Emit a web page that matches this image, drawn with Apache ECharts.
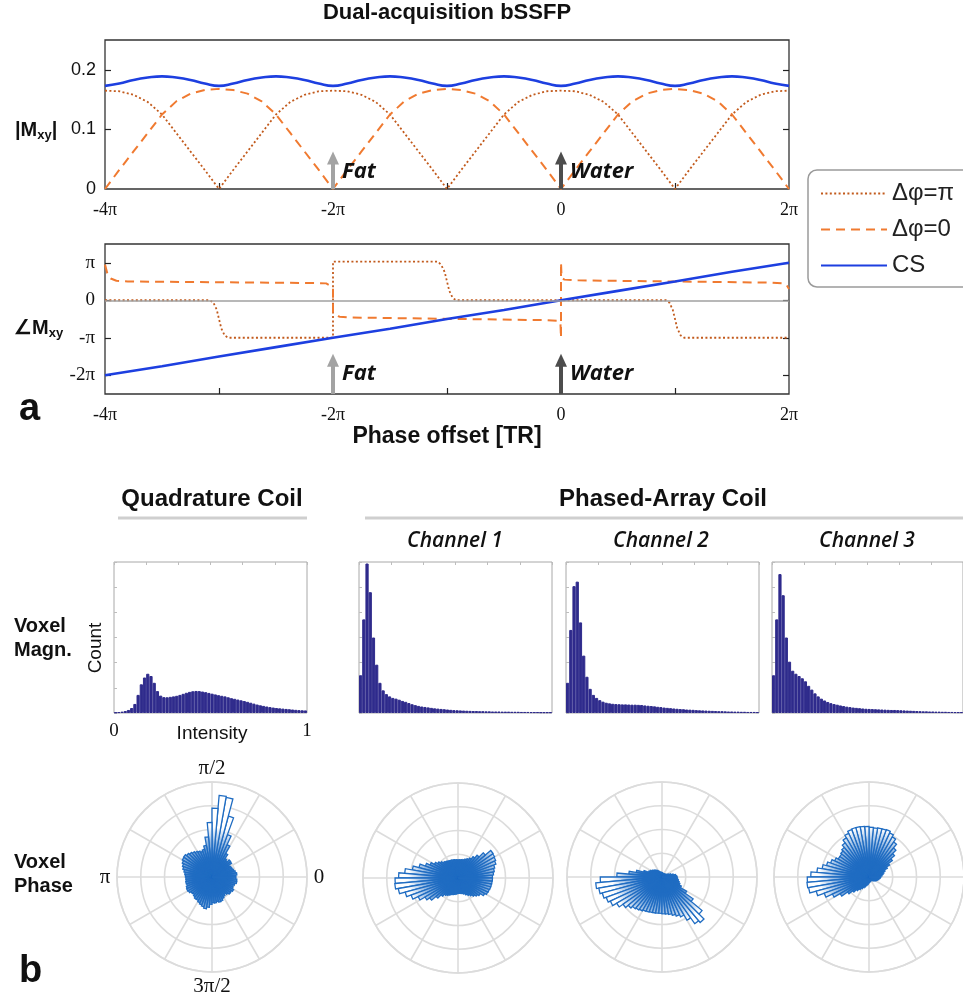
<!DOCTYPE html>
<html><head><meta charset="utf-8">
<script src="https://cdn.jsdelivr.net/npm/echarts@6/dist/echarts.min.js"></script>
<style>html,body{margin:0;padding:0;background:#fff}#c{width:963px;height:999px}</style>
</head><body><div id="c"></div>
<script>
// ---------- Panel a : magnitude (x in units of pi) ----------
const xMag = [-4,-3.875,-3.75,-3.625,-3.5,-3.375,-3.25,-3.125,-3,-2.875,-2.75,-2.625,-2.5,-2.375,-2.25,-2.125,-2,-1.875,-1.75,-1.625,-1.5,-1.375,-1.25,-1.125,-1,-0.875,-0.75,-0.625,-0.5,-0.375,-0.25,-0.125,0,0.125,0.25,0.375,0.5,0.625,0.75,0.875,1,1.125,1.25,1.375,1.5,1.625,1.75,1.875,2];
const magDotted = [.165,.164,.158,.146,.125,.094,.063,.032,0,.032,.063,.094,.125,.146,.158,.164,.165,.164,.158,.146,.125,.094,.063,.032,0,.032,.063,.094,.125,.146,.158,.164,.165,.164,.158,.146,.125,.094,.063,.032,0,.032,.063,.094,.125,.146,.158,.164,.165];
const magDashed = [0,.032,.063,.094,.125,.147,.16,.166,.168,.166,.16,.147,.125,.094,.063,.032,0,.032,.063,.094,.125,.147,.16,.166,.168,.166,.16,.147,.125,.094,.063,.032,0,.032,.063,.094,.125,.147,.16,.166,.168,.166,.16,.147,.125,.094,.063,.032,0];
const magCS = [.173,.177,.183,.187,.189,.187,.183,.177,.173,.177,.183,.187,.189,.187,.183,.177,.173,.177,.183,.187,.189,.187,.183,.177,.173,.177,.183,.187,.189,.187,.183,.177,.173,.177,.183,.187,.189,.187,.183,.177,.173,.177,.183,.187,.189,.187,.183,.177,.173];
// ---------- Panel a : phase (both axes in units of pi) ----------
const phaseDotX = [-4,-3.08,-3.05,-3.02,-3.0,-2.98,-2.95,-2.92,-2.0,-2.0,-1.08,-1.05,-1.02,-1.0,-0.98,-0.95,-0.92,0.92,0.95,0.98,1.0,1.02,1.05,1.08,2.0];
const phaseDotY = [0,0,-0.06,-0.25,-0.5,-0.75,-0.94,-1.0,-1.0,1.03,1.03,0.94,0.75,0.5,0.25,0.06,0,0,-0.06,-0.25,-0.5,-0.75,-0.94,-1.0,-1.0];
const phaseDashX = [-4,-3.98,-3.95,-3.9,-3.8,-2.2,-2.06,-2.03,-2.0,-2.0,-1.98,-1.94,-1.85,-0.15,-0.03,-0.005,0,0,0.005,0.03,0.15,1.85,1.95,1.98,2.0];
const phaseDashY = [0.95,0.72,0.58,0.52,0.5,0.46,0.45,0.4,0.32,-0.32,-0.4,-0.44,-0.46,-0.53,-0.55,-0.6,-1.0,1.0,0.6,0.55,0.53,0.47,0.45,0.4,0.3];
const phaseCSX = [-4,-3.5,-3,-2.5,-2,-1.5,-1,-0.5,0,0.5,1,1.5,2];
const phaseCSY = [-2,-1.76,-1.5,-1.25,-1,-0.76,-0.5,-0.26,0,0.25,0.5,0.76,1];
// ticks and labels
const xTickVals = [-4,-2,0,2];
const xTickLabels = ['-4π','-2π','0','2π'];
const xMinorTicks = [-3,-2,-1,0,1];
const magTickVals = [0,0.1,0.2];
const magTickLabels = ['0','0.1','0.2'];
const phaseTickVals = [1,0,-1,-2];
const phaseTickLabels = ['π','0','-π','-2π'];
// arrows (Fat at -2π, Water at 0)
const arrowX = [-2,0];
const arrowNames = ['Fat','Water'];
const arrowColors = ['#a3a3a3','#4d4d4d'];
const magArrowTip = 0.052, magArrowLabelY = 0.029;
const phaseArrowBase = -2.5, phaseArrowTip = -1.6, phaseArrowLabelY = -1.97;

// ---------- Panel b : histograms (60 bins over intensity 0..1, normalized count) ----------
const histQuad = [0.004,0.006,0.009,0.013,0.02,0.033,0.06,0.12,0.19,0.235,0.26,0.245,0.2,0.145,0.115,0.105,0.104,0.107,0.11,0.114,0.12,0.127,0.134,0.14,0.144,0.146,0.145,0.142,0.138,0.133,0.128,0.123,0.118,0.114,0.11,0.104,0.098,0.094,0.089,0.084,0.079,0.074,0.068,0.062,0.056,0.051,0.047,0.043,0.039,0.036,0.033,0.031,0.029,0.027,0.025,0.023,0.021,0.019,0.018,0.017];
const histCh1 = [0.25,0.62,0.99,0.8,0.5,0.32,0.2,0.15,0.125,0.11,0.1,0.095,0.088,0.08,0.074,0.066,0.058,0.052,0.047,0.043,0.04,0.037,0.034,0.031,0.029,0.027,0.025,0.023,0.021,0.019,0.018,0.017,0.016,0.015,0.014,0.013,0.013,0.012,0.012,0.011,0.011,0.01,0.01,0.01,0.009,0.009,0.009,0.008,0.008,0.008,0.007,0.007,0.007,0.006,0.006,0.006,0.005,0.005,0.005,0.005];
const histCh2 = [0.2,0.55,0.84,0.87,0.6,0.38,0.24,0.16,0.12,0.1,0.085,0.075,0.068,0.064,0.061,0.059,0.058,0.057,0.057,0.056,0.055,0.055,0.054,0.053,0.05,0.048,0.046,0.044,0.041,0.039,0.036,0.034,0.032,0.03,0.028,0.026,0.025,0.023,0.022,0.021,0.019,0.018,0.017,0.016,0.015,0.014,0.013,0.012,0.012,0.011,0.01,0.01,0.009,0.009,0.008,0.008,0.007,0.007,0.007,0.006];
const histCh3 = [0.25,0.62,0.92,0.78,0.5,0.34,0.28,0.26,0.245,0.23,0.21,0.18,0.155,0.13,0.11,0.095,0.083,0.073,0.065,0.059,0.055,0.05,0.046,0.042,0.039,0.036,0.034,0.032,0.03,0.028,0.027,0.026,0.025,0.024,0.023,0.022,0.021,0.02,0.02,0.019,0.018,0.017,0.016,0.015,0.014,0.013,0.012,0.011,0.011,0.01,0.01,0.009,0.009,0.008,0.008,0.007,0.007,0.006,0.006,0.006];

// ---------- Panel b : phase rose histograms (72 bins of 5°, radius in ring units) ----------
const angleBins = [0,5,10,15,20,25,30,35,40,45,50,55,60,65,70,75,80,85,90,95,100,105,110,115,120,125,130,135,140,145,150,155,160,165,170,175,180,185,190,195,200,205,210,215,220,225,230,235,240,245,250,255,260,265,270,275,280,285,290,295,300,305,310,315,320,325,330,335,340,345,350,355];
const roseQuad = [1.0,1.05,1.0,0.95,0.92,0.9,0.86,1.0,1.02,0.9,0.95,1.15,1.5,1.9,2.65,3.4,3.45,2.9,2.3,1.7,1.35,1.2,1.15,1.2,1.25,1.3,1.35,1.4,1.46,1.44,1.38,1.32,1.27,1.2,1.15,1.12,1.1,1.1,1.12,1.1,1.15,1.18,1.15,1.08,1.05,1.1,1.15,1.14,1.2,1.25,1.3,1.36,1.28,1.15,1.08,1.1,1.05,1.1,1.08,1.0,0.95,0.9,0.95,1.02,1.0,1.05,0.98,0.95,1.0,1.06,1.05,1.0];
const roseCh1 = [1.45,1.5,1.55,1.6,1.7,1.75,1.78,1.8,1.5,1.25,1.1,0.97,0.9,0.85,0.8,0.78,0.77,0.76,0.76,0.77,0.78,0.79,0.8,0.81,0.83,0.86,0.9,0.97,1.05,1.15,1.3,1.46,1.7,1.95,2.25,2.5,2.65,2.67,2.55,2.3,2.1,1.85,1.6,1.45,1.2,1.0,0.9,0.85,0.8,0.75,0.72,0.7,0.68,0.66,0.65,0.65,0.66,0.68,0.72,0.78,0.85,0.92,1.0,1.08,1.15,1.3,1.38,1.4,1.42,1.43,1.44,1.45];
const roseCh2 = [0.62,0.58,0.48,0.38,0.3,0.25,0.2,0.18,0.16,0.15,0.15,0.15,0.15,0.15,0.15,0.16,0.16,0.17,0.18,0.19,0.2,0.21,0.22,0.26,0.3,0.34,0.38,0.42,0.45,0.5,0.55,0.6,0.8,1.1,1.4,1.9,2.6,2.8,2.7,2.6,2.5,2.4,2.2,2.0,1.85,1.75,1.7,1.65,1.6,1.57,1.55,1.54,1.53,1.53,1.55,1.57,1.6,1.67,1.75,1.85,2.1,2.4,2.5,2.2,1.6,1.2,0.9,0.8,0.75,0.7,0.66,0.64];
const roseCh3 = [0.5,0.55,0.6,0.65,0.72,0.85,1.0,1.2,1.4,1.6,1.8,1.95,2.05,2.12,2.1,2.1,2.08,2.1,2.13,2.14,2.15,2.15,2.12,2.03,1.9,1.75,1.62,1.55,1.5,1.5,1.6,1.72,1.85,2.0,2.2,2.45,2.6,2.62,2.58,2.3,2.0,1.7,1.4,1.1,0.9,0.75,0.65,0.57,0.5,0.44,0.38,0.34,0.3,0.26,0.23,0.21,0.2,0.18,0.17,0.17,0.17,0.18,0.2,0.22,0.25,0.28,0.32,0.35,0.38,0.42,0.45,0.48];
const roseAngleLabels = ['0','π/2','π','3π/2'];

// ---------- layout / style ----------
const SANS = '"Liberation Sans", Arial, sans-serif';
const SERIF = '"Liberation Serif", "Times New Roman", serif';
const ITAL = '"Open Sans", "Liberation Sans", sans-serif';
const C_DOT = '#c25a1c', C_DASH = '#f07a30', C_CS = '#1d3fe0';
const HIST_COLOR = '#2f2b8c';
const ROSE_EDGE = '#1f6cc2';
const GRID_GRAY = '#dcdcdc';
const histLefts = [114, 359, 566, 772];
const histTop = 562, histW = 193, histH = 151;
const roseCenters = [[212,877],[458,878],[662,877],[869,877]];
const roseR = 95;

const zip = (xs, ys) => xs.map((x, i) => [x, ys[i]]);
const hists = [histQuad, histCh1, histCh2, histCh3];
const roses = [roseQuad, roseCh1, roseCh2, roseCh3];

const grids = [
  {left:105, right:174, top:40, height:149, show:true, borderColor:'#333', borderWidth:1.3, backgroundColor:'transparent'},
  {left:105, right:174, top:244, height:150, show:true, borderColor:'#333', borderWidth:1.3, backgroundColor:'transparent'}
];
histLefts.forEach(l => grids.push({left:l, top:histTop, width:histW, height:histH, show:true, borderColor:'#a8a8a8', borderWidth:1, backgroundColor:'transparent'}));

const piAxis = (gi) => ({
  type:'value', gridIndex:gi, min:-4, max:2, position:'bottom',
  axisLine:{show:false, onZero:false}, splitLine:{show:false},
  axisTick:{show:true, inside:true, length:6, customValues:xMinorTicks, lineStyle:{color:'#222', width:1.2}},
  axisLabel:{show:true, customValues:xTickVals, margin:12,
    formatter:(v)=> xTickLabels[xTickVals.indexOf(v)] ?? '',
    fontFamily:SERIF, fontSize:18, color:'#111'}
});
const xAxes = [piAxis(0), piAxis(1)];
for (let k=0;k<4;k++) xAxes.push({type:'category', gridIndex:2+k, show:false, boundaryGap:true, axisLine:{onZero:false}});
// intensity label axis (quadrature only)
xAxes.push({type:'value', gridIndex:2, min:0, max:1, interval:1, position:'bottom',
  axisLine:{show:false, onZero:false}, axisTick:{show:false}, splitLine:{show:false},
  axisLabel:{show:true, margin:9, fontFamily:SERIF, fontSize:19, color:'#111', formatter:(v)=>String(v)}});
// top tick axes for histograms
for (let k=0;k<4;k++) xAxes.push({type:'value', gridIndex:2+k, min:0, max:1, interval:1/6, position:'top',
  axisLine:{show:false, onZero:false}, axisLabel:{show:false}, splitLine:{show:false},
  axisTick:{show:true, inside:true, length:3, lineStyle:{color:'#bdbdbd'}}});

const yAxes = [
  {type:'value', gridIndex:0, min:0, max:0.25, position:'left',
   axisLine:{show:false, onZero:false}, splitLine:{show:false},
   axisTick:{show:true, inside:true, length:6, customValues:[0.1,0.2], lineStyle:{color:'#222', width:1.2}},
   axisLabel:{customValues:magTickVals, formatter:(v)=> magTickLabels[magTickVals.indexOf(v)] ?? '', margin:9, fontFamily:SANS, fontSize:18, color:'#111'}},
  {type:'value', gridIndex:0, min:0, max:0.25, position:'right',
   axisLine:{show:false, onZero:false}, splitLine:{show:false}, axisLabel:{show:false},
   axisTick:{show:true, inside:true, length:6, customValues:[0.1,0.2], lineStyle:{color:'#222', width:1.2}}},
  {type:'value', gridIndex:1, min:-2.5, max:1.5, position:'left',
   axisLine:{show:false, onZero:false}, splitLine:{show:false},
   axisTick:{show:true, inside:true, length:6, customValues:phaseTickVals, lineStyle:{color:'#222', width:1.2}},
   axisLabel:{customValues:phaseTickVals, formatter:(v)=> phaseTickLabels[phaseTickVals.indexOf(v)] ?? '', margin:10, fontFamily:SERIF, fontSize:19, color:'#111'}},
  {type:'value', gridIndex:1, min:-2.5, max:1.5, position:'right',
   axisLine:{show:false, onZero:false}, splitLine:{show:false}, axisLabel:{show:false},
   axisTick:{show:true, inside:true, length:6, customValues:phaseTickVals, lineStyle:{color:'#222', width:1.2}}}
];
for (let k=0;k<4;k++) yAxes.push({type:'value', gridIndex:2+k, min:0, max:1, interval:1/6,
  axisLine:{show:false, onZero:false}, axisLabel:{show:false}, splitLine:{show:false},
  axisTick:{show:true, inside:true, length:3, lineStyle:{color:'#bdbdbd'}}});

const series = [];
// top magnitude curves
series.push({name:'Δφ=π', type:'line', xAxisIndex:0, yAxisIndex:0, data:zip(xMag, magDotted), symbol:'none', color:C_DOT,
  lineStyle:{color:C_DOT, width:1.8, type:[2,2.4]}, z:3});
series.push({name:'Δφ=0', type:'line', xAxisIndex:0, yAxisIndex:0, data:zip(xMag, magDashed), symbol:'none', color:C_DASH,
  lineStyle:{color:C_DASH, width:2, type:[9,6]}, z:3});
series.push({name:'CS', type:'line', xAxisIndex:0, yAxisIndex:0, data:zip(xMag, magCS), symbol:'none', smooth:true, color:C_CS,
  lineStyle:{color:C_CS, width:2.6}, z:4});
// bottom phase
series.push({name:'zero', type:'line', xAxisIndex:1, yAxisIndex:2, data:[], symbol:'none', z:1,
  markLine:{silent:true, symbol:'none', label:{show:false}, lineStyle:{color:'#a0a0a0', width:1.5, type:'solid'}, data:[{yAxis:0}]}});
series.push({name:'Δφ=π', type:'line', xAxisIndex:1, yAxisIndex:2, data:zip(phaseDotX, phaseDotY), symbol:'none', color:C_DOT,
  lineStyle:{color:C_DOT, width:1.8, type:[2,2.4]}, z:3});
series.push({name:'Δφ=0', type:'line', xAxisIndex:1, yAxisIndex:2, data:zip(phaseDashX, phaseDashY), symbol:'none', color:C_DASH,
  lineStyle:{color:C_DASH, width:2, type:[9,6]}, z:3});
series.push({name:'CS', type:'line', xAxisIndex:1, yAxisIndex:2, data:zip(phaseCSX, phaseCSY), symbol:'none', color:C_CS,
  lineStyle:{color:C_CS, width:2.6}, z:4});
// arrows + labels
arrowX.forEach((ax, i) => {
  [[0,0,magArrowTip,magArrowLabelY],[1,phaseArrowBase,phaseArrowTip,phaseArrowLabelY]].forEach(([g, base, tip, ly]) => {
    series.push({name:'arrow'+i+g, type:'line', xAxisIndex:g, yAxisIndex:g*2, silent:true, z:6,
      lineStyle:{color:arrowColors[i], width:4}, itemStyle:{color:arrowColors[i]}, showSymbol:true, symbol:'none',
      data:[{value:[ax, base], symbol:'none'}, {value:[ax, tip], symbol:'triangle', symbolSize:[12,13]}]});
    series.push({name:'label'+i+g, type:'scatter', xAxisIndex:g, yAxisIndex:g*2, silent:true, z:6,
      symbolSize:0.1, itemStyle:{color:'#ffffff', opacity:1},
      label:{show:true, position:'right', distance:9, formatter:arrowNames[i], fontFamily:ITAL, fontStyle:'italic', fontWeight:'bold', fontSize:22, color:'#111111', opacity:1},
      data:[[ax, ly]]});
  });
});
// histograms
hists.forEach((h, k) => series.push({name:'hist'+k, type:'bar', xAxisIndex:2+k, yAxisIndex:4+k, data:h,
  barCategoryGap:'0%', barGap:'0%', itemStyle:{color:HIST_COLOR, borderColor:HIST_COLOR, borderWidth:1}, silent:true}));
// roses
roses.forEach((r, k) => series.push({name:'rose'+k, type:'bar', coordinateSystem:'polar', polarIndex:k, data:r,
  barCategoryGap:'0%', silent:true, z:3,
  itemStyle:{borderColor:ROSE_EDGE, borderWidth:1.3,
    color:{type:'radial', global:true, x:roseCenters[k][0], y:roseCenters[k][1], r:50,
      colorStops:[{offset:0,color:'#2a73c6'},{offset:0.38,color:'#2a73c6'},{offset:1,color:'#ffffff'}]}}}));

const polar = roseCenters.map(c => ({center:c, radius:roseR}));
const everySixth = (idx) => idx % 6 === 0;
const angleAxis = roseCenters.map((c, k) => ({polarIndex:k, type:'category', data:angleBins, startAngle:0, clockwise:false, boundaryGap:true,
  axisLine:{show:true, lineStyle:{color:GRID_GRAY, width:1.6}}, axisTick:{show:false, interval:5}, axisLabel:{show:false, interval:5},
  splitLine:{show:true, interval:everySixth, lineStyle:{color:GRID_GRAY, width:1.6}}, z:1}));
const radiusAxis = roseCenters.map((c, k) => ({polarIndex:k, type:'value', min:0, max:4, interval:1,
  axisLine:{show:false}, axisTick:{show:false}, axisLabel:{show:false},
  splitLine:{show:true, lineStyle:{color:GRID_GRAY, width:1.6}}, z:1}));

const txt = (x, y, text, font, align='center', extra={}) => ({type:'text', x, y, silent:true,
  style:Object.assign({text, font, fill:'#111', align, textAlign:align, verticalAlign:'middle', textVerticalAlign:'middle'}, extra)});
const qc = roseCenters[0];
const graphic = [
  txt(447, 13, 'Dual-acquisition bSSFP', 'bold 22px '+SANS),
  txt(447, 437, 'Phase offset [TR]', 'bold 23px '+SANS),
  txt(19, 410, 'a', 'bold 38px '+SANS, 'left'),
  txt(19, 972, 'b', 'bold 38px '+SANS, 'left'),
  {type:'text', x:15, y:130, silent:true, style:{text:'|M{s|xy}|', font:'bold 20px '+SANS, fill:'#111', verticalAlign:'middle', textVerticalAlign:'middle',
    rich:{s:{fontSize:13, fontWeight:'bold', fontFamily:'Liberation Sans', padding:[10,0,0,0]}}}},
  {type:'text', x:14, y:328, silent:true, style:{text:'∠M{s|xy}', font:'bold 20px '+SANS, fill:'#111', verticalAlign:'middle', textVerticalAlign:'middle',
    rich:{s:{fontSize:13, fontWeight:'bold', fontFamily:'Liberation Sans', padding:[10,0,0,0]}}}},
  txt(212, 499, 'Quadrature Coil', 'bold 24px '+SANS),
  txt(663, 499, 'Phased-Array Coil', 'bold 24px '+SANS),
  {type:'line', silent:true, shape:{x1:118, y1:518, x2:307, y2:518}, style:{stroke:'#cfcfcf', lineWidth:3}},
  {type:'line', silent:true, shape:{x1:365, y1:518, x2:963, y2:518}, style:{stroke:'#cfcfcf', lineWidth:3}},
  txt(455, 541, 'Channel 1', 'italic 600 21px '+ITAL),
  txt(661, 541, 'Channel 2', 'italic 600 21px '+ITAL),
  txt(867, 541, 'Channel 3', 'italic 600 21px '+ITAL),
  txt(14, 626, 'Voxel', 'bold 20px '+SANS, 'left'),
  txt(14, 650, 'Magn.', 'bold 20px '+SANS, 'left'),
  txt(14, 862, 'Voxel', 'bold 20px '+SANS, 'left'),
  txt(14, 886, 'Phase', 'bold 20px '+SANS, 'left'),
  txt(212, 734, 'Intensity', '19px '+SANS),
  Object.assign(txt(0, 0, 'Count', '19px '+SANS), {x:96, y:648, rotation:Math.PI/2}),
  txt(qc[0], qc[1]-roseR-14, roseAngleLabels[1], '21px '+SERIF),
  txt(qc[0]+roseR+12, qc[1], roseAngleLabels[0], '21px '+SERIF),
  txt(qc[0]-roseR-12, qc[1], roseAngleLabels[2], '21px '+SERIF),
  txt(qc[0], qc[1]+roseR+14, roseAngleLabels[3], '21px '+SERIF)
];

const option = {
  animation:false,
  backgroundColor:'#fff',
  textStyle:{fontFamily:SANS},
  legend:{data:['Δφ=π','Δφ=0','CS'], orient:'vertical', left:808, top:170, itemWidth:66, itemHeight:14, itemGap:11,
    padding:[11,60,9,12], borderColor:'#9a9a9a', borderWidth:1.5, borderRadius:9, backgroundColor:'#fff',
    itemStyle:{opacity:0, borderWidth:0},
    textStyle:{fontSize:24, fontFamily:SANS, color:'#222', lineHeight:25}, selectedMode:false},
  grid:grids, xAxis:xAxes, yAxis:yAxes,
  polar, angleAxis, radiusAxis,
  series, graphic
};
const chart = echarts.init(document.getElementById('c'), null, {renderer:'canvas'});
chart.setOption(option);
</script></body></html>
